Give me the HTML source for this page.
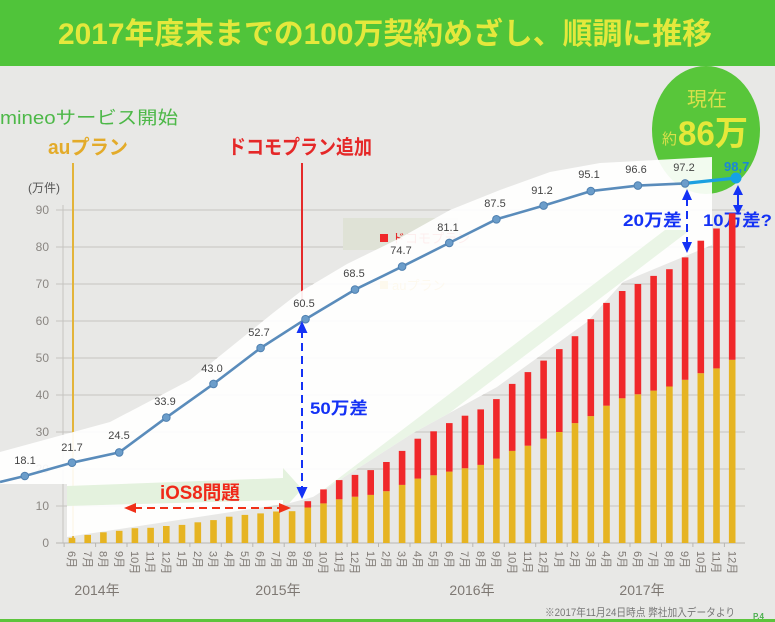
<!DOCTYPE html>
<html><head><meta charset="utf-8"><style>
html,body{margin:0;padding:0;background:#e8e8e6;}
svg{display:block;}
text{font-family:"Liberation Sans","Noto Sans CJK JP",sans-serif;}
</style></head><body>
<svg width="775" height="622" viewBox="0 0 775 622" xmlns="http://www.w3.org/2000/svg">
<defs>
<clipPath id="ov"><path d="M0,452 L110,422 L190,380 L273,313 L300,292 L347,264 L400,238 L450,210 L500,190 L550,172 L600,163 L712,157 L712,245 L623,282 L587,322 L497,387 L413,433 L313,497 L290,503 L67,537 L67,484 L0,484 Z"/></clipPath>
</defs>
<rect x="0" y="0" width="775" height="622" fill="#e8e8e6"/>
<!-- title band -->
<rect x="0" y="0" width="775" height="66" fill="#50c43a"/>
<text x="58" y="44" font-size="30" font-weight="bold" fill="#e4e83c" textLength="654" lengthAdjust="spacingAndGlyphs">2017年度末までの100万契約めざし、順調に推移</text>

<!-- circle -->
<ellipse cx="706" cy="130" rx="54" ry="64" fill="#58c63a"/>
<text x="707" y="106" font-size="20" fill="#d9e04a" text-anchor="middle">現在</text>
<text x="662" y="144" font-size="15" fill="#d9e04a">約</text>
<text x="678" y="145" font-size="34" font-weight="bold" fill="#e6e83a" textLength="70" lengthAdjust="spacingAndGlyphs">86万</text>

<!-- headings -->
<text x="0" y="124" font-size="18" fill="#4db848" textLength="178" lengthAdjust="spacingAndGlyphs">mineoサービス開始</text>
<text x="48" y="154" font-size="20" font-weight="bold" fill="#e3ab2a" textLength="80" lengthAdjust="spacingAndGlyphs">auプラン</text>
<text x="228" y="154" font-size="20" font-weight="bold" fill="#e52828" textLength="144" lengthAdjust="spacingAndGlyphs">ドコモプラン追加</text>

<!-- axis unit -->
<text x="28" y="192" font-size="12" fill="#555">(万件)</text>

<!-- grid -->
<g stroke="#c6c4c0" stroke-width="1">
<line x1="56" y1="506" x2="745" y2="506"/>
<line x1="56" y1="469" x2="745" y2="469"/>
<line x1="56" y1="432" x2="745" y2="432"/>
<line x1="56" y1="395" x2="745" y2="395"/>
<line x1="56" y1="358" x2="745" y2="358"/>
<line x1="56" y1="321" x2="745" y2="321"/>
<line x1="56" y1="284" x2="745" y2="284"/>
<line x1="56" y1="247" x2="745" y2="247"/>
<line x1="56" y1="210" x2="745" y2="210"/>
<line x1="63" y1="205" x2="63" y2="543"/>
</g>
<line x1="56" y1="543" x2="745" y2="543" stroke="#b8b6b2" stroke-width="1"/>
<g fill="#8a8682" font-size="12" text-anchor="end">
<text x="49" y="547">0</text>
<text x="49" y="510">10</text>
<text x="49" y="473">20</text>
<text x="49" y="436">30</text>
<text x="49" y="399">40</text>
<text x="49" y="362">50</text>
<text x="49" y="325">60</text>
<text x="49" y="288">70</text>
<text x="49" y="251">80</text>
<text x="49" y="214">90</text>
</g>

<!-- vertical markers -->
<line x1="73" y1="163" x2="73" y2="543" stroke="#e3b43a" stroke-width="2"/>
<line x1="302" y1="163" x2="302" y2="300" stroke="#e52a2a" stroke-width="2"/>

<!-- legend box behind -->
<rect x="343" y="218" width="115" height="32" fill="#dfe2d6"/>
<rect x="380" y="234" width="8" height="8" fill="#f0282a"/>
<text x="392" y="243" font-size="13" fill="#e52a2a">ドコモプラン</text>
<rect x="380" y="281" width="8" height="8" fill="#e6b422"/>
<text x="392" y="290" font-size="13" fill="#e3ab2a">auプラン</text>

<!-- white overlay -->
<path d="M0,452 L110,422 L190,380 L273,313 L300,292 L347,264 L400,238 L450,210 L500,190 L550,172 L600,163 L712,157 L712,245 L623,282 L587,322 L497,387 L413,433 L313,497 L290,503 L67,537 L67,484 L0,484 Z" fill="#ffffff" fill-opacity="0.92"/>
<!-- faint green arrows (clipped to overlay) -->
<g clip-path="url(#ov)">
<path d="M67,486 L283,478 L283,468 L302,489 L283,510 L283,500 L67,506 Z" fill="#e4f2de"/>
<path d="M310,500 L335,500 L690,230 L665,230 Z" fill="#eaf5e6"/>
<path d="M400,500 L420,500 L712,280 L712,262 Z" fill="#eef7eb"/>
</g>

<!-- yellow bars -->
<g fill="#e6b422">
<rect x="68.7" y="537.8" width="6.6" height="5.2"/>
<rect x="84.4" y="534.9" width="6.6" height="8.1"/>
<rect x="100.1" y="532.3" width="6.6" height="10.7"/>
<rect x="115.9" y="530.8" width="6.6" height="12.2"/>
<rect x="131.6" y="528.2" width="6.6" height="14.8"/>
<rect x="147.3" y="527.8" width="6.6" height="15.2"/>
<rect x="163.0" y="526.0" width="6.6" height="17.0"/>
<rect x="178.7" y="524.9" width="6.6" height="18.1"/>
<rect x="194.5" y="522.3" width="6.6" height="20.7"/>
<rect x="210.2" y="520.1" width="6.6" height="22.9"/>
<rect x="225.9" y="516.7" width="6.6" height="26.3"/>
<rect x="241.6" y="514.9" width="6.6" height="28.1"/>
<rect x="257.3" y="513.4" width="6.6" height="29.6"/>
<rect x="273.1" y="511.5" width="6.6" height="31.5"/>
<rect x="288.8" y="511.2" width="6.6" height="31.8"/>
<rect x="304.5" y="507.5" width="6.6" height="35.5"/>
<rect x="320.2" y="503.4" width="6.6" height="39.6"/>
<rect x="335.9" y="499.3" width="6.6" height="43.7"/>
<rect x="351.7" y="496.7" width="6.6" height="46.3"/>
<rect x="367.4" y="494.9" width="6.6" height="48.1"/>
<rect x="383.1" y="491.2" width="6.6" height="51.8"/>
<rect x="398.8" y="484.9" width="6.6" height="58.1"/>
<rect x="414.5" y="478.6" width="6.6" height="64.4"/>
<rect x="430.3" y="475.3" width="6.6" height="67.7"/>
<rect x="446.0" y="471.6" width="6.6" height="71.4"/>
<rect x="461.7" y="468.3" width="6.6" height="74.7"/>
<rect x="477.4" y="464.9" width="6.6" height="78.1"/>
<rect x="493.1" y="458.6" width="6.6" height="84.4"/>
<rect x="508.9" y="450.9" width="6.6" height="92.1"/>
<rect x="524.6" y="445.7" width="6.6" height="97.3"/>
<rect x="540.3" y="438.7" width="6.6" height="104.3"/>
<rect x="556.0" y="432.0" width="6.6" height="111.0"/>
<rect x="571.7" y="423.1" width="6.6" height="119.9"/>
<rect x="587.5" y="416.1" width="6.6" height="126.9"/>
<rect x="603.2" y="405.7" width="6.6" height="137.3"/>
<rect x="618.9" y="398.3" width="6.6" height="144.7"/>
<rect x="634.6" y="394.3" width="6.6" height="148.7"/>
<rect x="650.3" y="390.6" width="6.6" height="152.4"/>
<rect x="666.1" y="386.5" width="6.6" height="156.5"/>
<rect x="681.8" y="379.8" width="6.6" height="163.2"/>
<rect x="697.5" y="373.2" width="6.6" height="169.8"/>
<rect x="713.2" y="368.4" width="6.6" height="174.6"/>
<rect x="728.9" y="359.8" width="6.6" height="183.2"/>
</g>
<!-- red bars -->
<g fill="#f0282a">
<rect x="304.5" y="501.2" width="6.6" height="6.3"/>
<rect x="320.2" y="489.4" width="6.6" height="14.0"/>
<rect x="335.9" y="480.1" width="6.6" height="19.2"/>
<rect x="351.7" y="474.9" width="6.6" height="21.8"/>
<rect x="367.4" y="470.1" width="6.6" height="24.8"/>
<rect x="383.1" y="462.0" width="6.6" height="29.2"/>
<rect x="398.8" y="450.9" width="6.6" height="34.0"/>
<rect x="414.5" y="438.7" width="6.6" height="39.9"/>
<rect x="430.3" y="431.3" width="6.6" height="44.0"/>
<rect x="446.0" y="423.1" width="6.6" height="48.5"/>
<rect x="461.7" y="415.7" width="6.6" height="52.6"/>
<rect x="477.4" y="409.4" width="6.6" height="55.5"/>
<rect x="493.1" y="399.1" width="6.6" height="59.5"/>
<rect x="508.9" y="383.9" width="6.6" height="67.0"/>
<rect x="524.6" y="372.1" width="6.6" height="73.6"/>
<rect x="540.3" y="360.6" width="6.6" height="78.1"/>
<rect x="556.0" y="349.1" width="6.6" height="82.9"/>
<rect x="571.7" y="336.2" width="6.6" height="86.9"/>
<rect x="587.5" y="319.2" width="6.6" height="96.9"/>
<rect x="603.2" y="302.9" width="6.6" height="102.8"/>
<rect x="618.9" y="291.0" width="6.6" height="107.3"/>
<rect x="634.6" y="284.0" width="6.6" height="110.3"/>
<rect x="650.3" y="275.9" width="6.6" height="114.7"/>
<rect x="666.1" y="269.2" width="6.6" height="117.3"/>
<rect x="681.8" y="257.4" width="6.6" height="122.4"/>
<rect x="697.5" y="240.7" width="6.6" height="132.5"/>
<rect x="713.2" y="228.5" width="6.6" height="139.9"/>
</g>

<!-- line series -->
<polyline points="0,482 24.8,476 72,462.7 119.2,452.4 166.3,417.6 213.5,383.9 260.6,348 305.5,319.2 355,289.6 402.1,266.6 449.3,242.9 496.4,219.3 543.6,205.6 590.8,191.1 637.9,185.6 685.1,183.4" fill="none" stroke="#5a8cbb" stroke-width="2.6" stroke-linejoin="round"/>
<line x1="685.1" y1="183.4" x2="736" y2="178" stroke="#1aa0e0" stroke-width="3.2"/>
<g fill="#6b9dca" stroke="#4f80b0" stroke-width="1">
<circle cx="24.8" cy="476" r="3.8"/>
<circle cx="72" cy="462.7" r="3.8"/>
<circle cx="119.2" cy="452.4" r="3.8"/>
<circle cx="166.3" cy="417.6" r="3.8"/>
<circle cx="213.5" cy="383.9" r="3.8"/>
<circle cx="260.6" cy="348" r="3.8"/>
<circle cx="305.5" cy="319.2" r="3.8"/>
<circle cx="355" cy="289.6" r="3.8"/>
<circle cx="402.1" cy="266.6" r="3.8"/>
<circle cx="449.3" cy="242.9" r="3.8"/>
<circle cx="496.4" cy="219.3" r="3.8"/>
<circle cx="543.6" cy="205.6" r="3.8"/>
<circle cx="590.8" cy="191.1" r="3.8"/>
<circle cx="637.9" cy="185.6" r="3.8"/>
<circle cx="685.1" cy="183.4" r="3.8"/>
</g>
<circle cx="736" cy="178" r="5.5" fill="#14a2e6"/>
<g font-size="11" fill="#444" text-anchor="middle">
<text x="25" y="464">18.1</text>
<text x="72" y="451">21.7</text>
<text x="119" y="439">24.5</text>
<text x="165" y="405">33.9</text>
<text x="212" y="372">43.0</text>
<text x="259" y="336">52.7</text>
<text x="304" y="307">60.5</text>
<text x="354" y="277">68.5</text>
<text x="401" y="254">74.7</text>
<text x="448" y="231">81.1</text>
<text x="495" y="207">87.5</text>
<text x="542" y="194">91.2</text>
<text x="589" y="178">95.1</text>
<text x="636" y="173">96.6</text>
<text x="684" y="171">97.2</text>
</g>
<text x="724" y="171" font-size="13" font-weight="bold" fill="#1a86d8">98,7</text>

<!-- x axis ticks -->
<g stroke="#b8b6b2" stroke-width="1">
<line x1="64.1" y1="543" x2="64.1" y2="547"/><line x1="95.6" y1="543" x2="95.6" y2="547"/><line x1="127" y1="543" x2="127" y2="547"/><line x1="158.5" y1="543" x2="158.5" y2="547"/><line x1="189.9" y1="543" x2="189.9" y2="547"/><line x1="221.3" y1="543" x2="221.3" y2="547"/><line x1="252.8" y1="543" x2="252.8" y2="547"/><line x1="284.2" y1="543" x2="284.2" y2="547"/><line x1="315.6" y1="543" x2="315.6" y2="547"/><line x1="347.1" y1="543" x2="347.1" y2="547"/><line x1="378.5" y1="543" x2="378.5" y2="547"/><line x1="410" y1="543" x2="410" y2="547"/><line x1="441.4" y1="543" x2="441.4" y2="547"/><line x1="472.8" y1="543" x2="472.8" y2="547"/><line x1="504.3" y1="543" x2="504.3" y2="547"/><line x1="535.7" y1="543" x2="535.7" y2="547"/><line x1="567.2" y1="543" x2="567.2" y2="547"/><line x1="598.6" y1="543" x2="598.6" y2="547"/><line x1="630" y1="543" x2="630" y2="547"/><line x1="661.5" y1="543" x2="661.5" y2="547"/><line x1="692.9" y1="543" x2="692.9" y2="547"/><line x1="724.4" y1="543" x2="724.4" y2="547"/>
</g>

<!-- month labels -->
<g font-size="11" fill="#7e7873">
<text transform="translate(72,551) rotate(90)" dy="0.35em">6月</text>
<text transform="translate(87.7,551) rotate(90)" dy="0.35em">7月</text>
<text transform="translate(103.4,551) rotate(90)" dy="0.35em">8月</text>
<text transform="translate(119.2,551) rotate(90)" dy="0.35em">9月</text>
<text transform="translate(134.9,551) rotate(90)" dy="0.35em">10月</text>
<text transform="translate(150.6,551) rotate(90)" dy="0.35em">11月</text>
<text transform="translate(166.3,551) rotate(90)" dy="0.35em">12月</text>
<text transform="translate(182,551) rotate(90)" dy="0.35em">1月</text>
<text transform="translate(197.8,551) rotate(90)" dy="0.35em">2月</text>
<text transform="translate(213.5,551) rotate(90)" dy="0.35em">3月</text>
<text transform="translate(229.2,551) rotate(90)" dy="0.35em">4月</text>
<text transform="translate(244.9,551) rotate(90)" dy="0.35em">5月</text>
<text transform="translate(260.6,551) rotate(90)" dy="0.35em">6月</text>
<text transform="translate(276.4,551) rotate(90)" dy="0.35em">7月</text>
<text transform="translate(292.1,551) rotate(90)" dy="0.35em">8月</text>
<text transform="translate(307.8,551) rotate(90)" dy="0.35em">9月</text>
<text transform="translate(323.5,551) rotate(90)" dy="0.35em">10月</text>
<text transform="translate(339.2,551) rotate(90)" dy="0.35em">11月</text>
<text transform="translate(355,551) rotate(90)" dy="0.35em">12月</text>
<text transform="translate(370.7,551) rotate(90)" dy="0.35em">1月</text>
<text transform="translate(386.4,551) rotate(90)" dy="0.35em">2月</text>
<text transform="translate(402.1,551) rotate(90)" dy="0.35em">3月</text>
<text transform="translate(417.8,551) rotate(90)" dy="0.35em">4月</text>
<text transform="translate(433.6,551) rotate(90)" dy="0.35em">5月</text>
<text transform="translate(449.3,551) rotate(90)" dy="0.35em">6月</text>
<text transform="translate(465,551) rotate(90)" dy="0.35em">7月</text>
<text transform="translate(480.7,551) rotate(90)" dy="0.35em">8月</text>
<text transform="translate(496.4,551) rotate(90)" dy="0.35em">9月</text>
<text transform="translate(512.2,551) rotate(90)" dy="0.35em">10月</text>
<text transform="translate(527.9,551) rotate(90)" dy="0.35em">11月</text>
<text transform="translate(543.6,551) rotate(90)" dy="0.35em">12月</text>
<text transform="translate(559.3,551) rotate(90)" dy="0.35em">1月</text>
<text transform="translate(575,551) rotate(90)" dy="0.35em">2月</text>
<text transform="translate(590.8,551) rotate(90)" dy="0.35em">3月</text>
<text transform="translate(606.5,551) rotate(90)" dy="0.35em">4月</text>
<text transform="translate(622.2,551) rotate(90)" dy="0.35em">5月</text>
<text transform="translate(637.9,551) rotate(90)" dy="0.35em">6月</text>
<text transform="translate(653.6,551) rotate(90)" dy="0.35em">7月</text>
<text transform="translate(669.4,551) rotate(90)" dy="0.35em">8月</text>
<text transform="translate(685.1,551) rotate(90)" dy="0.35em">9月</text>
<text transform="translate(700.8,551) rotate(90)" dy="0.35em">10月</text>
<text transform="translate(716.5,551) rotate(90)" dy="0.35em">11月</text>
<text transform="translate(732.2,551) rotate(90)" dy="0.35em">12月</text>
</g>
<g font-size="14" fill="#7e7873" text-anchor="middle">
<text x="97" y="595">2014年</text>
<text x="278" y="595">2015年</text>
<text x="472" y="595">2016年</text>
<text x="642" y="595">2017年</text>
</g>
<text x="545" y="616" font-size="11" fill="#777" textLength="190" lengthAdjust="spacingAndGlyphs">※2017年11月24日時点 弊社加入データより</text>
<text x="753" y="619" font-size="8" font-weight="bold" fill="#4caf50">P.4</text>
<rect x="0" y="619" width="775" height="3" fill="#5cc43c"/>

<!-- annotations -->
<g stroke="#1432f5" stroke-width="2" fill="none">
<line x1="302" y1="330" x2="302" y2="492" stroke-dasharray="8,5"/>
<line x1="687" y1="198" x2="687" y2="245" stroke-dasharray="8,5"/>
</g>
<g fill="#1432f5">
<path d="M302,321 L296.5,333 L307.5,333 Z"/>
<path d="M302,499 L296.5,487 L307.5,487 Z"/>
<path d="M687,189 L682,200 L692,200 Z"/>
<path d="M687,253 L682,242 L692,242 Z"/>
</g>
<g font-weight="bold" font-size="17" fill="#1432f5">
<text x="310" y="414" textLength="58" lengthAdjust="spacingAndGlyphs">50万差</text>
<text x="623" y="226" textLength="59" lengthAdjust="spacingAndGlyphs">20万差</text>
<text x="703" y="226" textLength="69" lengthAdjust="spacingAndGlyphs">10万差?</text>
</g>
<!-- last red bar over 10万差 -->
<rect x="728.9" y="213.3" width="6.6" height="146.5" fill="#f0282a"/>
<line x1="738" y1="192" x2="738" y2="208" stroke="#1432f5" stroke-width="2"/>
<path d="M738,185 L733,195 L743,195 Z" fill="#1432f5"/>
<path d="M738,215 L733,205 L743,205 Z" fill="#1432f5"/>

<g stroke="#f03018" stroke-width="2" fill="none">
<line x1="134" y1="508" x2="282" y2="508" stroke-dasharray="8,5"/>
</g>
<g fill="#f03018">
<path d="M124,508 L136,503 L136,513 Z"/>
<path d="M291,508 L279,503 L279,513 Z"/>
</g>
<text x="160" y="499" font-size="19" font-weight="bold" fill="#f02818" textLength="80" lengthAdjust="spacingAndGlyphs">iOS8問題</text>
</svg>
</body></html>
